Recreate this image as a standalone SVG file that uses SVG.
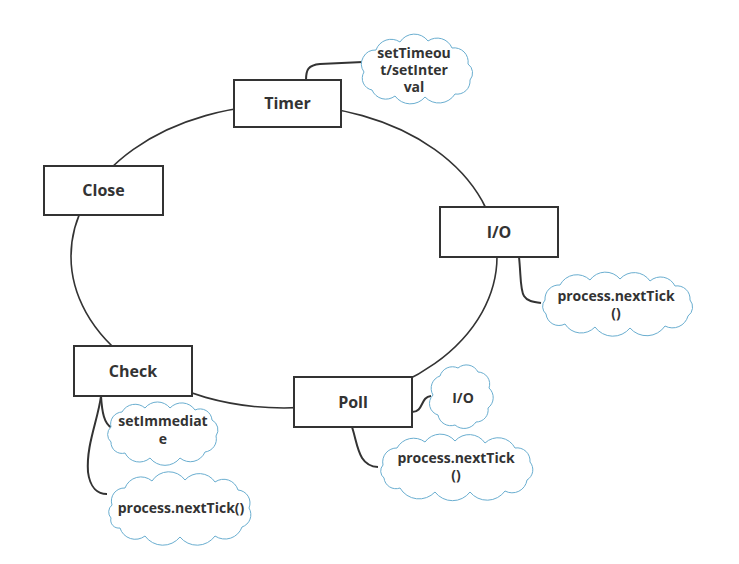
<svg xmlns="http://www.w3.org/2000/svg" width="739" height="564" viewBox="0 0 739 564">
<style>
.box{fill:#fff;stroke:#333;stroke-width:2}
.lbl{font-family:"Open Sans","Noto Sans",sans-serif;font-weight:bold;font-size:16px;fill:#333;text-anchor:middle}
.cl{fill:#fff;stroke:#6aaed0;stroke-width:1}
.ct{font-family:"Open Sans","Noto Sans",sans-serif;font-weight:bold;font-size:14px;fill:#333;text-anchor:middle}
.ln{fill:none;stroke:#333;stroke-width:1.6}
.lnb{fill:none;stroke:#333;stroke-width:2}
</style>
<rect width="739" height="564" fill="#fff"/>
<g id="connectors">
<ellipse class="ln" cx="284" cy="256.5" rx="213" ry="151.5"/>
<path class="lnb" d="M306,80 C306,70 308,65 320,64 L363,62"/>
<path class="lnb" d="M519,257 C521,275 520,290 524,296 C527,301 533,302 541,303"/>
<path class="lnb" d="M412,412 C424,412 420,397 431,396"/>
<path class="lnb" d="M352,427 C358,445 358,466 378,467"/>
<path class="lnb" d="M101,396 C102,412 104,424 112,428"/>
<path class="lnb" d="M101,396 C98,420 86,445 88,472 C90,488 98,494 107,494"/>
</g>
<g id="timer"><rect class="box" x="234" y="80" width="107" height="47"/><text class="lbl" x="287.5" y="109">Timer</text></g>
<g id="close"><rect class="box" x="44" y="166" width="119" height="49"/><text class="lbl" x="103.5" y="196">Close</text></g>
<g id="io"><rect class="box" x="440" y="207" width="118" height="50"/><text class="lbl" x="499" y="238">I/O</text></g>
<g id="check"><rect class="box" x="74" y="346" width="118" height="50"/><text class="lbl" x="133" y="377">Check</text></g>
<g id="poll"><rect class="box" x="294" y="377" width="118" height="50"/><text class="lbl" x="353" y="408">Poll</text></g>
<g id="cloud-timer">
<path class="cl" d="M364,72 A14,14 0 0 1 376,50 A16,16 0 0 1 400,42 A17,17 0 0 1 428,41 A16,16 0 0 1 452,48 A14,14 0 0 1 468,64 A11,11 0 0 1 470,80 A13,13 0 0 1 455,94 A19,19 0 0 1 425,97 A19,19 0 0 1 395,96 A15,15 0 0 1 372,90 A12,12 0 0 1 364,72 Z"/>
<text class="ct" x="414" y="58">setTimeou</text><text class="ct" x="414" y="75">t/setInter</text><text class="ct" x="414" y="92">val</text>
</g>
<g id="cloud-io-tick">
<path class="cl" d="M545,300 A14,14 0 0 1 560,285 A19,19 0 0 1 590,280 A19,19 0 0 1 620,279 A19,19 0 0 1 650,281 A16,16 0 0 1 675,286 A13,13 0 0 1 690,300 A11,11 0 0 1 688,316 A16,16 0 0 1 665,326 A22,22 0 0 1 630,328 A22,22 0 0 1 595,327 A19,19 0 0 1 565,324 A13,13 0 0 1 546,314 A10,10 0 0 1 545,300 Z"/>
<text class="ct" x="616" y="301">process.nextTick</text><text class="ct" x="616" y="318">()</text>
</g>
<g id="cloud-poll-io">
<path class="cl" d="M433,395 A13,13 0 0 1 440,376 A13,13 0 0 1 458,368 A13,13 0 0 1 478,372 A12,12 0 0 1 489,388 A13,13 0 0 1 488,408 A12,12 0 0 1 476,422 A14,14 0 0 1 455,425 A13,13 0 0 1 438,415 A12,12 0 0 1 433,395 Z"/>
<text class="ct" x="463" y="403">I/O</text>
</g>
<g id="cloud-poll-tick">
<path class="cl" d="M383,465 A14,14 0 0 1 397,448 A19,19 0 0 1 425,442 A19,19 0 0 1 455,441 A19,19 0 0 1 485,443 A19,19 0 0 1 515,448 A13,13 0 0 1 530,462 A12,12 0 0 1 527,480 A15,15 0 0 1 505,491 A22,22 0 0 1 470,492 A22,22 0 0 1 435,492 A22,22 0 0 1 400,488 A12,12 0 0 1 384,478 A9,9 0 0 1 383,465 Z"/>
<text class="ct" x="456" y="463">process.nextTick</text><text class="ct" x="456" y="480">()</text>
</g>
<g id="cloud-immediate">
<path class="cl" d="M111,427 A12,12 0 0 1 122,412 A15,15 0 0 1 145,408 A16,16 0 0 1 170,408 A16,16 0 0 1 195,410 A12,12 0 0 1 212,420 A11,11 0 0 1 216,436 A13,13 0 0 1 205,452 A16,16 0 0 1 180,458 A19,19 0 0 1 150,458 A16,16 0 0 1 125,453 A11,11 0 0 1 111,442 A10,10 0 0 1 111,427 Z"/>
<text class="ct" x="163" y="426">setImmediat</text><text class="ct" x="163" y="444">e</text>
</g>
<g id="cloud-check-tick">
<path class="cl" d="M112,505 A13,13 0 0 1 125,488 A17,17 0 0 1 152,481 A20,20 0 0 1 185,480 A19,19 0 0 1 215,482 A15,15 0 0 1 238,490 A13,13 0 0 1 249,508 A13,13 0 0 1 242,527 A18,18 0 0 1 215,536 A22,22 0 0 1 180,537 A22,22 0 0 1 145,536 A16,16 0 0 1 120,528 A8,8 0 0 1 111,518 A9,9 0 0 1 112,505 Z"/>
<text class="ct" x="181" y="513">process.nextTick()</text>
</g>
</svg>
